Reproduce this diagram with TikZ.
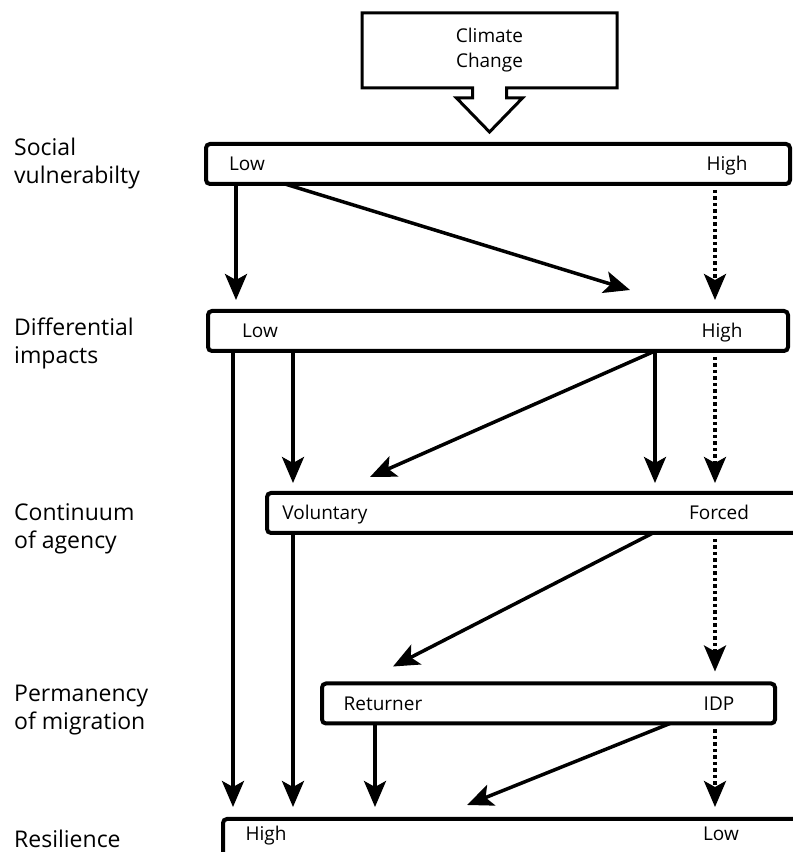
\documentclass[tikz,border=0pt]{standalone}
\usepackage{fontspec}
\setmainfont{Open Sans}
\usepackage{tikz}
\usetikzlibrary{arrows.meta}

\begin{document}
\begin{tikzpicture}[x=1pt,y=1pt,
    bar/.style={draw,line width=4pt,rounded corners=4pt,minimum height=40pt,inner sep=0pt,outer sep=0pt},
    txt/.style={anchor=base,font=\fontsize{19}{25}\selectfont},
    lbl/.style={anchor=west,align=left,inner sep=0pt,font=\fontsize{23}{28}\selectfont},
    arr/.style={-{Stealth[length=26pt,width=22pt,inset=6pt]},line width=3.5pt},
    dots/.style={arr,dash pattern=on 3.5pt off 3pt}]
\clip (0,0) rectangle (793,852);

% row labels
\node[lbl] (lsv) at (14,688) {Social\\vulnerabilty};
\node[lbl] (ldi) at (14,509) {Differential\\impacts};
\node[lbl] (lca) at (14,323) {Continuum\\of agency};
\node[lbl] (lpm) at (14,142) {Permanency\\of migration};
\node[lbl] (lres) at (14,13) {Resilience};

% climate change callout
\node[minimum width=255pt,minimum height=75pt,inner sep=0pt,outer sep=0pt,
      font=\fontsize{19}{25}\selectfont,align=center] (cc) at (489.5,801.5) {Climate\\Change};
\draw[line width=3pt] (cc.south west) -- (cc.north west) -- (cc.north east) -- (cc.south east)
    -- ([xshift=17pt]cc.south) -- ++(0,-10) -- ++(16,0) -- ++(-33,-34) -- ++(-33,34)
    -- ++(16,0) -- ++(0,10) -- cycle;

% bars
\node[bar,minimum width=584pt] (sv) at (498,688) {};
\node[bar,minimum width=580pt] (di) at (498,521) {};
\node[bar,minimum width=573pt] (ca) at (553.5,339) {};
\node[bar,minimum width=453pt] (pm) at (548.5,148.5) {};
\node[bar,minimum width=617pt,minimum height=42pt] (res) at (531.5,12) {};

\node[txt] (svlo) at (247,681) {Low};
\node[txt] (svhi) at (727,681) {High};
\node[txt] (dilo) at (260,514) {Low};
\node[txt] (dihi) at (722,514) {High};
\node[txt] (cavo) at (325,332) {Voluntary};
\node[txt] (cafo) at (719,332) {Forced};
\node[txt] (pmre) at (383,141.5) {Returner};
\node[txt] (pmid) at (719,141.5) {IDP};
\node[txt] (reshi) at (266,12) {High};
\node[txt] (reslo) at (721,12) {Low};

% connectors
\path[arr] ([xshift=30pt]sv.south west) edge ([xshift=28pt,yshift=11pt]di.north west);
\path[arr] ([xshift=79pt]sv.south west) edge ([xshift=422pt,yshift=21pt]di.north west);
\path[dots] ([xshift=509pt,yshift=-6pt]sv.south west) edge ([xshift=507pt,yshift=11pt]di.north west);

\path[arr] ([xshift=25pt]di.south west) edge ([xshift=10pt,yshift=12pt]res.north west);
\path[arr] ([xshift=85pt]di.south west) edge ([xshift=26pt,yshift=10pt]ca.north west);
\path[arr] ([xshift=447pt]di.south west) edge ([xshift=103pt,yshift=16pt]ca.north west);
\path[arr] ([xshift=447pt]di.south west) edge ([xshift=388pt,yshift=10pt]ca.north west);
\path[dots] ([xshift=507pt,yshift=-6pt]di.south west) edge ([xshift=448pt,yshift=10pt]ca.north west);

\path[arr] ([xshift=26pt]ca.south west) edge ([xshift=70pt,yshift=12pt]res.north west);
\path[arr] ([xshift=386pt]ca.south west) edge ([xshift=71pt,yshift=17pt]pm.north west);
\path[dots] ([xshift=448pt,yshift=-6pt]ca.south west) edge ([xshift=393pt,yshift=12pt]pm.north west);

\path[arr] ([xshift=53pt]pm.south west) edge ([xshift=152pt,yshift=12pt]res.north west);
\path[arr] ([xshift=348pt]pm.south west) edge ([xshift=244pt,yshift=14pt]res.north west);
\path[dots] ([xshift=393pt,yshift=-6pt]pm.south west) edge ([xshift=492pt,yshift=12pt]res.north west);
\end{tikzpicture}
\end{document}
